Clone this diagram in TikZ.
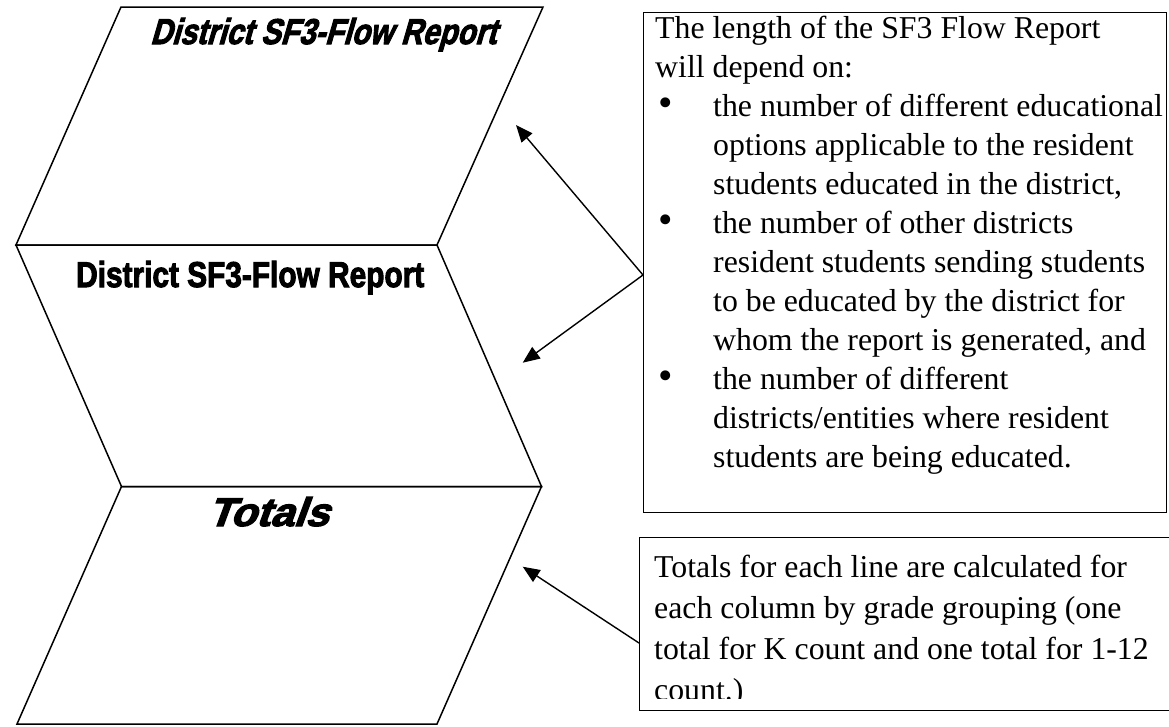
\documentclass[tikz,border=0pt]{standalone}
\usepackage{graphicx}
\usepackage{fontspec}
\setmainfont{Liberation Serif}
\newfontfamily\artfont{Liberation Sans}[BoldFeatures={FakeBold=3}]
\newfontfamily\artslant{Liberation Sans}[BoldFeatures={FakeBold=3,FakeSlant=0.35}]
\usetikzlibrary{arrows.meta}
\newcommand{\bigbul}{\scalebox{1.3}{\textbullet}}
\begin{document}
\begin{tikzpicture}[x=1pt,y=-1pt,
  shapeline/.style={draw=black, line width=1.5pt, line join=miter},
  box/.style={draw=black, line width=1.3pt, inner sep=0pt, anchor=north west},
  arr/.style={draw=black, line width=1.4pt, -{Triangle[length=17pt,width=14pt]}},
  txt/.style={anchor=base west, inner sep=0pt, font=\fontsize{31.8}{39}\selectfont},
  art/.style={anchor=base west, inner sep=0pt}
]
\fill[white] (0,0) rectangle (1169,726);
\useasboundingbox (0,0) rectangle (1169,726);
% parallelogram vertices
\coordinate (a1) at (121,7);
\coordinate (a2) at (543,7);
\coordinate (b1) at (16,245);
\coordinate (b2) at (437,245);
\coordinate (c1) at (121.5,486.5);
\coordinate (c2) at (541.5,486.5);
\coordinate (d1) at (17,724);
\coordinate (d2) at (437,724);
\draw[shapeline] (a1) -- (a2) -- (b2) -- (b1) -- cycle;
\draw[shapeline] (b1) -- (b2) -- (c2) -- (c1) -- cycle;
\draw[shapeline] (c1) -- (c2) -- (d2) -- (d1) -- cycle;
% labels of the parallelograms
\node[art] (lab1) at (150,44) {\resizebox{346pt}{26pt}{\artslant\bfseries District SF3-Flow Report}};
\node[art] (lab2) at (76,287) {\resizebox{348pt}{26pt}{\artfont\bfseries District SF3-Flow Report}};
\node[art] (lab3) at (207,526) {\resizebox{121pt}{29pt}{\artslant\bfseries Totals}};
% text boxes
\node[box, minimum width=523pt, minimum height=500pt] (box1) at (643,12) {};
\node[box, minimum width=545pt, minimum height=173pt] (box2) at (639,537) {};
% box 1 text
\node[txt] (p1) at (655,38) {The length of the SF3 Flow Report};
\node[txt] (p2) at (655,77) {will depend on:};
\node[txt] (b1t) at (658,116) {\bigbul};
\node[txt] (p3) at (713,116) {the number of different educational};
\node[txt] (p4) at (713,155) {options applicable to the resident};
\node[txt] (p5) at (713,194) {students educated in the district,};
\node[txt] (b2t) at (658,233) {\bigbul};
\node[txt] (p6) at (713,233) {the number of other districts};
\node[txt] (p7) at (713,272) {resident students sending students};
\node[txt] (p8) at (713,311) {to be educated by the district for};
\node[txt] (p9) at (713,350) {whom the report is generated, and};
\node[txt] (b3t) at (658,389) {\bigbul};
\node[txt] (p10) at (713,389) {the number of different};
\node[txt] (p11) at (713,428) {districts/entities where resident};
\node[txt] (p12) at (713,467) {students are being educated.};
% box 2 text (clipped at the bottom)
\begin{scope}
\clip (639,537) rectangle (1169,698);
\node[txt] (q1) at (654,577) {Totals for each line are calculated for};
\node[txt] (q2) at (654,618) {each column by grade grouping (one};
\node[txt] (q3) at (654,659) {total for K count and one total for 1-12};
\node[txt] (q4) at (654,700) {count.)};
\end{scope}
% arrows
\coordinate (s12) at (643,275);
\coordinate (tip1) at (516,125);
\coordinate (tip2) at (522.7,362.7);
\coordinate (s3) at (639,643);
\coordinate (tip3) at (522.7,566.7);
\draw[arr] (s12) -- (tip1);
\draw[arr] (s12) -- (tip2);
\draw[arr] (s3) -- (tip3);
\end{tikzpicture}
\end{document}
